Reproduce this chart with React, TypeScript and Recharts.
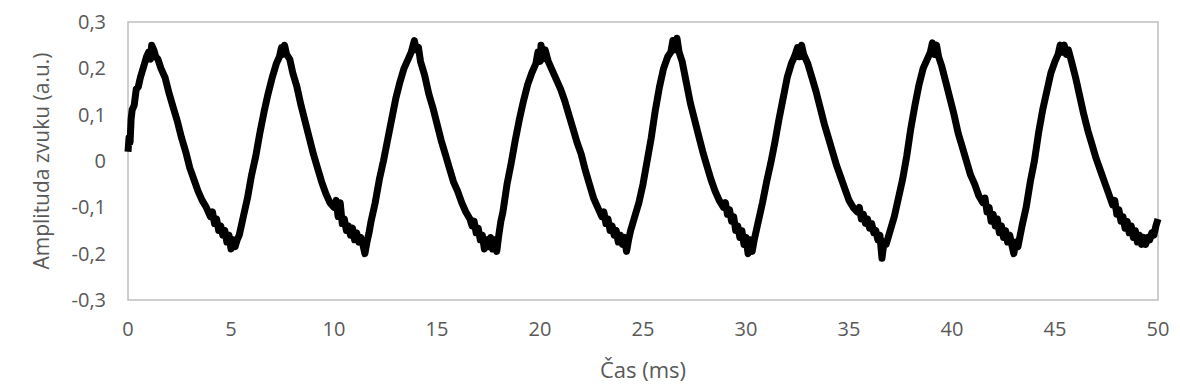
import React from 'react';
import { LineChart, Line, XAxis, YAxis, ReferenceArea, Label } from 'recharts';

// [time (ms), amplitude (a.u.)], one array per wave period
const period1: [number, number][] = [
  [0, 0.02], [0.05, 0.05], [0.1, 0.04], [0.15, 0.09], [0.2, 0.11], [0.3, 0.12], [0.4, 0.155], [0.5, 0.16],
  [0.6, 0.18], [0.7, 0.195], [0.8, 0.21], [0.9, 0.225], [1.0, 0.235], [1.1, 0.22], [1.15, 0.25], [1.25, 0.24],
  [1.35, 0.225], [1.45, 0.22], [1.6, 0.2], [1.8, 0.18], [2.0, 0.145], [2.2, 0.115], [2.4, 0.085], [2.6, 0.05],
  [2.8, 0.02], [3.0, -0.015], [3.2, -0.04], [3.4, -0.065], [3.6, -0.085], [3.8, -0.1], [3.9, -0.11], [4.0, -0.12],
  [4.1, -0.11], [4.2, -0.135], [4.3, -0.125], [4.4, -0.15], [4.5, -0.14], [4.6, -0.16], [4.7, -0.15], [4.8, -0.175],
  [4.9, -0.16], [5.0, -0.19], [5.1, -0.17], [5.2, -0.185], [5.3, -0.17],
];

const period2: [number, number][] = [
  [5.4, -0.16], [5.5, -0.14], [5.6, -0.12], [5.8, -0.08], [6.0, -0.03], [6.2, 0.01], [6.4, 0.06], [6.6, 0.105],
  [6.8, 0.145], [7.0, 0.18], [7.2, 0.21], [7.35, 0.225], [7.45, 0.245], [7.52, 0.23], [7.6, 0.25], [7.7, 0.23],
  [7.85, 0.22], [8.0, 0.19], [8.2, 0.16], [8.4, 0.12], [8.6, 0.085], [8.8, 0.05], [9.0, 0.015], [9.2, -0.015],
  [9.4, -0.045], [9.6, -0.07], [9.8, -0.09], [10.0, -0.1], [10.1, -0.085], [10.2, -0.12], [10.3, -0.09], [10.4, -0.135],
  [10.5, -0.125], [10.6, -0.15], [10.7, -0.14], [10.8, -0.16], [10.9, -0.145], [11.0, -0.17], [11.1, -0.155],
  [11.2, -0.175], [11.3, -0.165], [11.4, -0.18], [11.5, -0.2], [11.6, -0.175],
];

const period3: [number, number][] = [
  [11.7, -0.155], [11.8, -0.13], [12.0, -0.09], [12.2, -0.04], [12.4, 0.0], [12.6, 0.045], [12.8, 0.09], [13.0, 0.135],
  [13.2, 0.17], [13.4, 0.2], [13.6, 0.22], [13.75, 0.235], [13.9, 0.26], [14.0, 0.24], [14.1, 0.245], [14.2, 0.215],
  [14.4, 0.185], [14.6, 0.145], [14.8, 0.115], [15.0, 0.08], [15.2, 0.045], [15.4, 0.015], [15.6, -0.015], [15.8, -0.045],
  [16.0, -0.065], [16.2, -0.09], [16.4, -0.11], [16.6, -0.125], [16.7, -0.14], [16.8, -0.13], [16.9, -0.155], [17.0, -0.145],
  [17.1, -0.17], [17.2, -0.16], [17.3, -0.19], [17.4, -0.17], [17.5, -0.185], [17.6, -0.165], [17.7, -0.19], [17.8, -0.17],
  [17.9, -0.195], [18.0, -0.16],
];

const period4: [number, number][] = [
  [18.1, -0.13], [18.2, -0.11], [18.4, -0.05], [18.6, -0.005], [18.8, 0.045], [19.0, 0.09], [19.2, 0.13], [19.4, 0.165],
  [19.6, 0.19], [19.8, 0.21], [19.9, 0.235], [20.0, 0.215], [20.05, 0.25], [20.15, 0.22], [20.25, 0.24], [20.4, 0.215],
  [20.6, 0.195], [20.8, 0.175], [21.0, 0.155], [21.2, 0.13], [21.4, 0.1], [21.6, 0.07], [21.8, 0.04], [22.0, 0.015],
  [22.2, -0.02], [22.4, -0.05], [22.6, -0.08], [22.8, -0.1], [23.0, -0.12], [23.1, -0.11], [23.2, -0.135], [23.3, -0.125],
  [23.4, -0.15], [23.5, -0.14], [23.6, -0.16], [23.7, -0.15], [23.8, -0.175], [23.9, -0.16], [24.0, -0.18], [24.1, -0.165],
  [24.2, -0.195], [24.3, -0.17],
];

const period5: [number, number][] = [
  [24.4, -0.15], [24.6, -0.12], [24.8, -0.09], [25.0, -0.05], [25.2, 0.0], [25.4, 0.05], [25.6, 0.11], [25.8, 0.16],
  [26.0, 0.2], [26.2, 0.225], [26.35, 0.235], [26.45, 0.26], [26.55, 0.24], [26.65, 0.265], [26.75, 0.235], [26.9, 0.215],
  [27.1, 0.17], [27.3, 0.125], [27.5, 0.09], [27.7, 0.055], [27.9, 0.02], [28.1, -0.01], [28.3, -0.04], [28.5, -0.065],
  [28.7, -0.085], [28.9, -0.1], [29.0, -0.09], [29.1, -0.115], [29.2, -0.105], [29.3, -0.13], [29.4, -0.12], [29.5, -0.15],
  [29.6, -0.14], [29.7, -0.165], [29.8, -0.15], [29.9, -0.18], [30.0, -0.165], [30.1, -0.2], [30.2, -0.17], [30.3, -0.195],
  [30.4, -0.17],
];

const period6: [number, number][] = [
  [30.6, -0.13], [30.8, -0.09], [31.0, -0.045], [31.2, -0.005], [31.4, 0.04], [31.6, 0.09], [31.8, 0.135], [32.0, 0.18],
  [32.2, 0.21], [32.35, 0.225], [32.5, 0.245], [32.6, 0.225], [32.7, 0.25], [32.8, 0.23], [33.0, 0.21], [33.2, 0.18],
  [33.4, 0.15], [33.6, 0.115], [33.8, 0.08], [34.0, 0.05], [34.2, 0.02], [34.4, -0.01], [34.6, -0.035], [34.8, -0.06],
  [35.0, -0.085], [35.2, -0.1], [35.4, -0.11], [35.5, -0.1], [35.6, -0.125], [35.7, -0.115], [35.8, -0.135], [35.9, -0.125],
  [36.0, -0.145], [36.1, -0.135], [36.2, -0.155], [36.3, -0.15], [36.4, -0.17], [36.5, -0.16], [36.6, -0.21], [36.7, -0.175],
  [36.8, -0.18],
];

const period7: [number, number][] = [
  [37.0, -0.15], [37.2, -0.12], [37.4, -0.08], [37.6, -0.04], [37.8, 0.01], [38.0, 0.07], [38.2, 0.12], [38.4, 0.165],
  [38.6, 0.2], [38.8, 0.22], [38.95, 0.235], [39.05, 0.255], [39.15, 0.23], [39.25, 0.25], [39.35, 0.225], [39.5, 0.205],
  [39.7, 0.17], [39.9, 0.135], [40.1, 0.1], [40.3, 0.06], [40.5, 0.03], [40.7, 0.0], [40.9, -0.03], [41.1, -0.05],
  [41.3, -0.075], [41.5, -0.09], [41.6, -0.08], [41.7, -0.11], [41.8, -0.1], [41.9, -0.13], [42.0, -0.115], [42.1, -0.14],
  [42.2, -0.125], [42.3, -0.155], [42.4, -0.14], [42.5, -0.165], [42.6, -0.15], [42.7, -0.175], [42.8, -0.16], [42.9, -0.18],
  [43.0, -0.2], [43.1, -0.175], [43.2, -0.185],
];

const period8: [number, number][] = [
  [43.4, -0.14], [43.6, -0.1], [43.8, -0.045], [44.0, 0.0], [44.2, 0.06], [44.4, 0.11], [44.6, 0.15], [44.8, 0.19],
  [45.0, 0.215], [45.15, 0.23], [45.25, 0.25], [45.35, 0.235], [45.45, 0.25], [45.55, 0.23], [45.65, 0.24], [45.8, 0.215],
  [46.0, 0.18], [46.2, 0.14], [46.4, 0.1], [46.6, 0.065], [46.8, 0.035], [47.0, 0.005], [47.2, -0.02], [47.4, -0.045],
  [47.6, -0.07], [47.8, -0.095], [47.9, -0.085], [48.0, -0.115], [48.1, -0.105], [48.2, -0.13], [48.3, -0.12], [48.4, -0.145],
  [48.5, -0.13], [48.6, -0.155], [48.7, -0.14], [48.8, -0.165], [48.9, -0.15], [49.0, -0.175], [49.1, -0.16], [49.2, -0.18],
  [49.3, -0.165], [49.4, -0.18], [49.5, -0.165], [49.6, -0.17], [49.7, -0.155], [49.8, -0.16], [49.9, -0.14], [50.0, -0.125],
];

const X_TICKS = [0, 5, 10, 15, 20, 25, 30, 35, 40, 45, 50];
const Y_TICKS = [-0.3, -0.2, -0.1, 0, 0.1, 0.2, 0.3];

const data = [...period1, ...period2, ...period3, ...period4, ...period5, ...period6, ...period7, ...period8].map(
  ([t, v]) => ({ t, v })
);

const FONT = '"Open Sans", sans-serif';
const GREY = '#595959';

// Czech decimal comma
const formatY = (v: number) => (v === 0 ? '0' : v.toFixed(1).replace('.', ','));

export default function App() {
  return (
    <div style={{ position: 'absolute', left: 0, top: 0, width: 1180, height: 387, background: '#fff' }}>
      <LineChart width={1180} height={387} data={data} margin={{ top: 22, right: 22, bottom: 0, left: 0 }}>
        <ReferenceArea x1={0} x2={50} y1={-0.3} y2={0.3} fill="none" stroke="#bfbfbf" strokeWidth={1.5} />
        <XAxis
          dataKey="t"
          type="number"
          domain={[0, 50]}
          ticks={X_TICKS}
          height={87}
          axisLine={false}
          tickLine={false}
          tickSize={0}
          tickMargin={22}
          tick={{ fill: GREY, fontSize: 20, fontFamily: FONT }}
        >
          <Label value="Čas (ms)" position="insideBottom" offset={9} style={{ fill: GREY, fontSize: 22, fontFamily: FONT }} />
        </XAxis>
        <YAxis
          type="number"
          domain={[-0.3, 0.3]}
          ticks={Y_TICKS}
          width={128}
          axisLine={false}
          tickLine={false}
          tickSize={0}
          tickMargin={22}
          tickFormatter={formatY}
          tick={{ fill: GREY, fontSize: 20, fontFamily: FONT }}
        >
          <Label
            value="Amplituda zvuku (a.u.)"
            angle={-90}
            position="insideLeft"
            offset={42}
            style={{ textAnchor: 'middle', fill: GREY, fontSize: 21, fontFamily: FONT }}
          />
        </YAxis>
        <Line
          dataKey="v"
          type="linear"
          stroke="#000"
          strokeWidth={7}
          strokeLinejoin="round"
          dot={false}
          isAnimationActive={false}
        />
      </LineChart>
    </div>
  );
}
